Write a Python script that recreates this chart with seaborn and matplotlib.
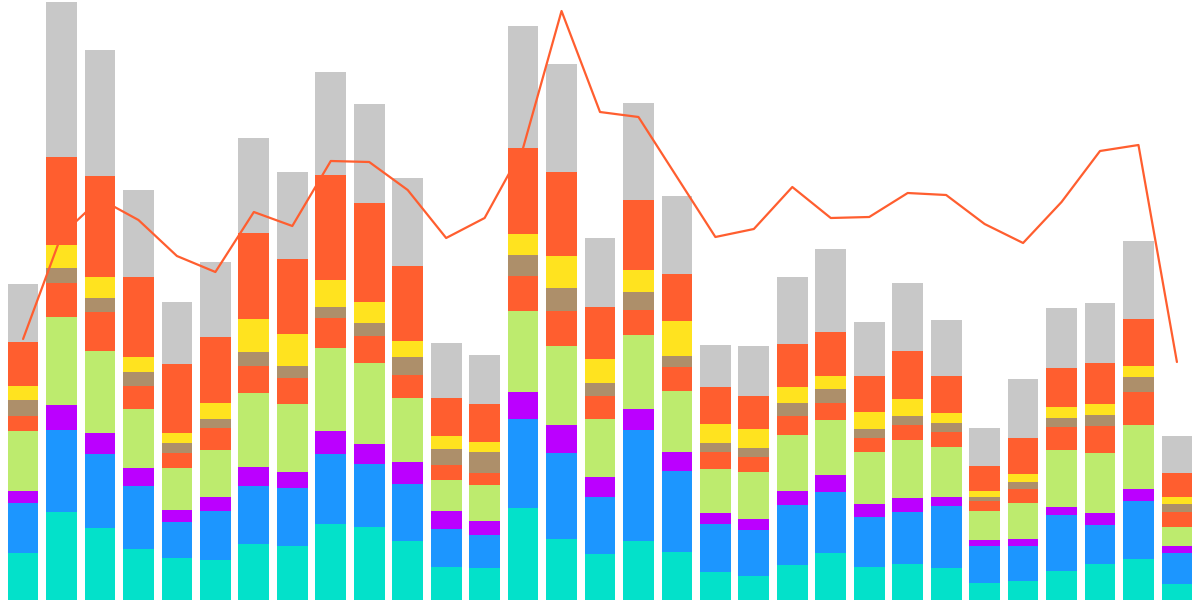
import numpy as np
import pandas as pd
import matplotlib
matplotlib.use("Agg")
import matplotlib.pyplot as plt
import seaborn as sns

categories = [f"C{i+1}" for i in range(31)]

# stacked series, bottom to top
s_cyan   = [47, 88, 72, 51, 42, 40, 56, 54, 76, 73, 59, 33, 32, 92, 61, 46, 59, 48, 28, 24, 35, 47, 33, 36, 32, 17, 19, 29, 36, 41, 16]
s_blue   = [50, 82, 74, 63, 36, 49, 58, 58, 70, 63, 57, 38, 33, 89, 86, 57, 111, 81, 48, 46, 60, 61, 50, 52, 62, 37, 35, 56, 39, 58, 31]
s_purple = [12, 25, 21, 18, 12, 14, 19, 16, 23, 20, 22, 18, 14, 27, 28, 20, 21, 19, 11, 11, 14, 17, 13, 14, 9, 6, 7, 8, 12, 12, 7]
s_green  = [60, 88, 82, 59, 42, 47, 74, 68, 83, 81, 64, 31, 36, 81, 79, 58, 74, 61, 44, 47, 56, 55, 52, 58, 50, 29, 36, 57, 60, 64, 19]
s_orange1 = [15, 34, 39, 23, 15, 22, 27, 26, 30, 27, 23, 15, 12, 35, 35, 23, 25, 24, 17, 15, 19, 17, 14, 15, 15, 10, 14, 23, 27, 33, 15]
s_brown  = [16, 15, 14, 14, 10, 9, 14, 12, 11, 13, 18, 16, 21, 21, 23, 13, 18, 11, 9, 9, 13, 14, 9, 9, 9, 4, 7, 9, 11, 15, 8]
s_yellow = [14, 23, 21, 15, 10, 16, 33, 32, 27, 21, 16, 13, 10, 21, 32, 24, 22, 35, 19, 19, 16, 13, 17, 17, 10, 6, 8, 11, 11, 11, 7]
s_orange2 = [44, 88, 101, 80, 69, 66, 86, 75, 105, 99, 75, 38, 38, 86, 84, 52, 70, 47, 37, 33, 43, 44, 36, 48, 37, 25, 36, 39, 41, 47, 24]
s_gray   = [58, 155, 126, 87, 62, 75, 95, 87, 103, 99, 88, 55, 49, 122, 108, 69, 97, 78, 42, 50, 67, 83, 54, 68, 56, 38, 59, 60, 60, 78, 37]

line_values = [261, 365, 401, 380, 344, 328, 388, 374, 439, 438, 410, 362, 382, 452, 589, 488, 483, 423, 363, 371, 413, 382, 383, 407, 405, 376, 357, 398, 449, 455, 238]

series = [s_cyan, s_blue, s_purple, s_green, s_orange1, s_brown, s_yellow, s_orange2, s_gray]
colors = ["#03E1CA", "#1C96FF", "#BB00FF", "#BDEB6E", "#FF5E2F", "#AD8F6A", "#FFE31F", "#FF5E2F", "#C8C8C8"]
line_color = "#FF5E2F"

sns.set_theme(style="white")

fig = plt.figure(figsize=(12, 6), dpi=100)
ax = fig.add_axes([0, 0, 1, 1])

idx = np.arange(len(categories))
cum = np.cumsum(np.array(series, dtype=float), axis=0)

# draw cumulative totals from top to bottom so each visible part is one segment
for k in range(len(series) - 1, -1, -1):
    df = pd.DataFrame({"x": idx, "y": cum[k]})
    sns.barplot(data=df, x="x", y="y", color=colors[k], saturation=1,
                width=0.8, linewidth=0, ax=ax)

sns.lineplot(x=idx, y=line_values, color=line_color, linewidth=1.6, ax=ax, zorder=5)

ax.set_xlim(-0.6, len(categories) - 0.4)
ax.set_ylim(0, 600)
ax.set_axis_off()

fig.savefig("out.png", dpi=100)
